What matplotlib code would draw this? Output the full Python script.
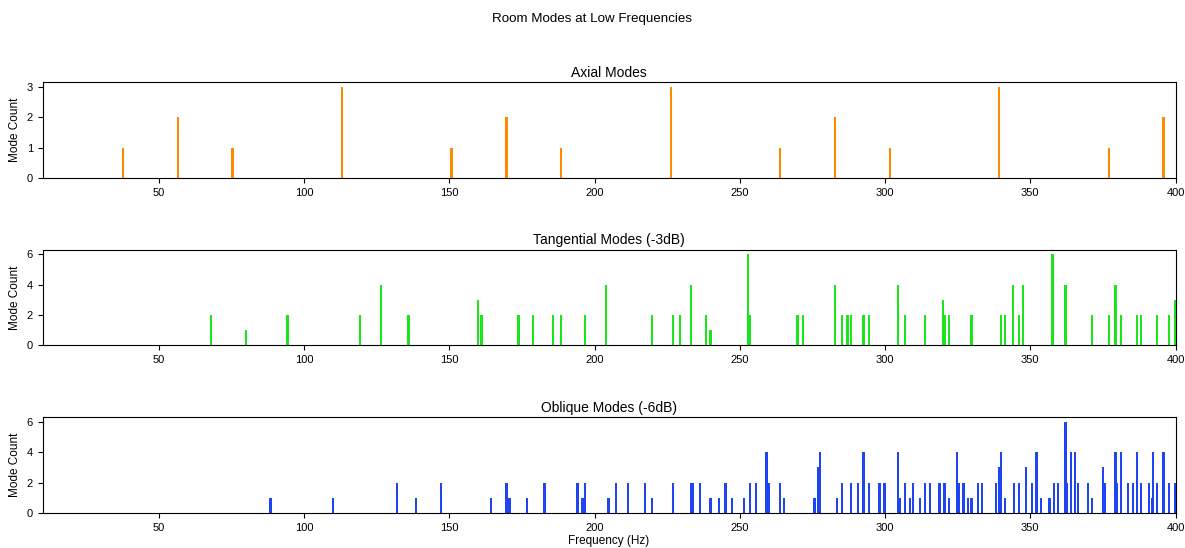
import matplotlib
matplotlib.use("Agg")
import matplotlib.pyplot as plt

plt.rcParams["font.family"] = ["Liberation Sans", "DejaVu Sans"]

# mode frequencies (Hz) and how many modes share each frequency
axial_freqs = [37.70, 56.55, 75.40, 113.10, 150.80, 169.65, 188.50, 226.20,
               263.90, 282.75, 301.60, 339.30, 377.00, 395.85]
axial_counts = [1, 2, 1, 3, 1, 2, 1, 3, 1, 2, 1, 3, 1, 2]

tangential_freqs = [67.96, 79.97, 94.25, 119.22, 126.45, 135.93, 159.95, 161.05,
                    173.79, 178.83, 185.65, 188.50, 196.80, 203.89, 219.83, 226.98,
                    229.32, 233.16, 238.44, 239.92, 252.90, 253.60, 269.89, 271.86,
                    282.75, 285.25, 287.11, 288.35, 292.63, 294.45, 304.53, 306.85,
                    313.73, 319.90, 320.45, 322.11, 329.74, 339.82, 341.39, 343.98,
                    346.04, 347.58, 357.65, 362.10, 371.30, 377.00, 379.35, 381.22,
                    386.77, 388.14, 393.60, 397.64, 399.87]
tangential_counts = [2, 1, 2, 2, 4, 2, 3, 2,
                     2, 2, 2, 2, 2, 4, 2, 2,
                     2, 4, 2, 1, 6, 2, 2, 2,
                     4, 2, 2, 2, 2, 2, 4, 2,
                     2, 3, 2, 2, 2, 2, 2, 4,
                     2, 4, 6, 4, 2, 2, 4, 2,
                     2, 2, 2, 2, 3]

oblique_freqs = [88.41, 109.91, 131.95, 138.52, 147.22, 164.33, 169.65, 170.69,
                 176.83, 182.76, 194.07, 195.90, 196.80, 204.76, 207.35, 211.59,
                 217.39, 219.83, 226.98, 233.16, 233.92, 236.19, 239.92, 242.87,
                 245.05, 247.22, 251.49, 253.60, 255.69, 259.15, 259.83, 263.90,
                 265.24, 275.75, 277.04, 277.68, 283.38, 285.25, 288.35, 290.80,
                 292.63, 294.45, 298.04, 299.83, 304.53, 305.11, 306.85, 308.59,
                 309.74, 312.02, 313.73, 315.42, 318.78, 320.45, 322.11, 324.85,
                 325.40, 327.03, 328.66, 329.74, 331.89, 333.49, 338.25, 339.30,
                 339.82, 341.39, 344.50, 346.04, 348.60, 350.63, 352.15, 353.66,
                 356.66, 358.15, 359.63, 362.10, 362.59, 364.05, 365.51, 366.49,
                 369.86, 371.30, 375.11, 375.58, 379.35, 379.82, 381.22, 383.54,
                 385.39, 386.77, 388.14, 390.88, 391.79, 392.24, 393.60, 395.85,
                 397.64, 399.87]
oblique_counts = [1, 1, 2, 1, 2, 1, 2, 1,
                  1, 2, 2, 1, 2, 1, 2, 2,
                  2, 1, 2, 2, 2, 2, 1, 1,
                  2, 1, 1, 2, 2, 4, 2, 2,
                  1, 1, 3, 4, 1, 2, 2, 2,
                  4, 2, 2, 2, 4, 1, 2, 1,
                  2, 1, 2, 2, 2, 2, 1, 4,
                  2, 2, 1, 1, 2, 2, 2, 3,
                  4, 1, 2, 2, 3, 2, 4, 1,
                  1, 2, 2, 6, 2, 4, 4, 2,
                  2, 1, 3, 2, 4, 2, 4, 2,
                  2, 4, 2, 2, 1, 4, 2, 4,
                  2, 2]

panels = [
    ("Axial Modes", axial_freqs, axial_counts, "#ff8a00", [0, 1, 2, 3]),
    ("Tangential Modes (-3dB)", tangential_freqs, tangential_counts, "#1de51d", [0, 2, 4, 6]),
    ("Oblique Modes (-6dB)", oblique_freqs, oblique_counts, "#1f44f2", [0, 2, 4, 6]),
]

fig, axes = plt.subplots(3, 1, figsize=(11.85, 5.48), dpi=100)
fig.subplots_adjust(left=0.036, right=0.992, top=0.850, bottom=0.064, hspace=0.75)
fig.suptitle("Room Modes at Low Frequencies", fontsize=9.6, y=0.977)

for ax, (title, freqs, counts, color, yt) in zip(axes, panels):
    ax.bar(freqs, counts, width=0.8, color=color)
    ax.set_xlim(10, 400)
    ax.set_yticks(yt)
    ax.set_title(title, fontsize=10, pad=4)
    ax.set_ylabel("Mode Count", fontsize=8.5)
    ax.tick_params(labelsize=8)

axes[-1].set_xlabel("Frequency (Hz)", fontsize=8.5, labelpad=2)

fig.savefig("out.png", dpi=100)
